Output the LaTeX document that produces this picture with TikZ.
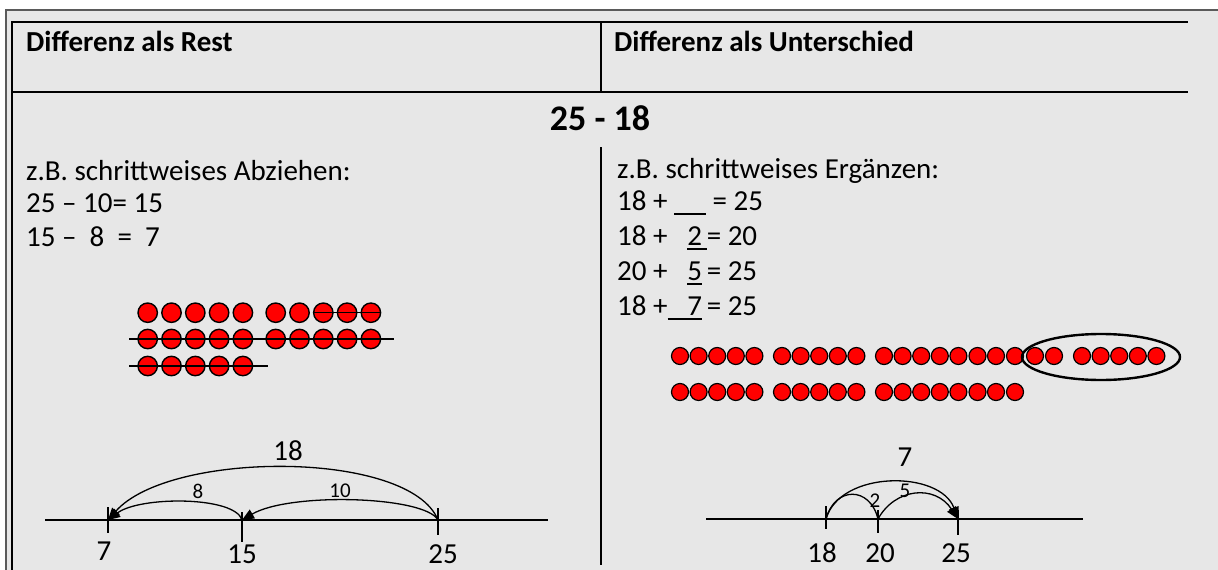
\documentclass[tikz,border=0pt]{standalone}
\usepackage{fontspec}
\setmainfont{Carlito}
\usetikzlibrary{arrows.meta,shapes.geometric}
\definecolor{paper}{HTML}{E7E7E7}
\definecolor{frame}{HTML}{5A5A5A}
\definecolor{bead}{HTML}{FF0000}
\newcommand{\unter}[1]{\setbox0\hbox{#1}\rlap{\rule[-4.5pt]{\wd0}{1.8pt}}\box0}

\begin{document}
\begin{tikzpicture}[x=1pt,y=-1pt,every node/.style={font=\fontsize{29}{34}\selectfont,inner sep=0pt}]
  \tikzstyle{p}=[circle,draw,line width=1.4pt,fill=bead,minimum size=19.4pt,inner sep=0pt]
  \tikzstyle{q}=[circle,draw,line width=1.2pt,fill=bead,minimum size=17pt,inner sep=0pt]
  \tikzstyle{rule}=[line width=1.4pt]
  \tikzstyle{jump}=[line width=1.3pt]
  \tikzstyle{tip}=[-{Triangle[length=12pt,width=10pt]}]
  \tikzstyle{small}=[font=\fontsize{21}{24}\selectfont]
  \tikzstyle{head}=[anchor=west,font=\bfseries\fontsize{29}{34}\selectfont]
  \useasboundingbox (0,0) rectangle (1218,570);
  \fill[paper] (6,10) rectangle (1218,570);
  \draw[frame,line width=1.6pt] (6,570) -- (6,10) -- (1218,10);
  % table lines
  \draw[rule] (12,570) -- (12,22) -- (1188,22);
  \draw[rule] (12,92) -- (1188,92);
  \draw[rule] (601,22) -- (601,92);
  \draw[rule] (601,147) -- (601,565);
  \node[head] (hl) at (26,41) {Differenz als Rest};
  \node[head] (hr) at (614,41) {Differenz als Unterschied};
  \node[font=\bfseries\fontsize{36}{40}\selectfont] (task) at (600,118) {25 - 18};
  % left column
  \node[anchor=west] (l0) at (26,171) {z.B. schrittweises Abziehen:};
  \node[anchor=west] (l1) at (26,203) {25 – 10= 15};
  \node[anchor=west] (l2) at (26,237) {15 – \ 8 \ = \ 7};
  \foreach \y/\n in {312.7/1,339/2}
    \foreach \i in {0,...,4} {
      \node[p] (a\n-\i) at ({147.7+23.8*\i},\y) {};
      \node[p] (b\n-\i) at ({275.7+23.8*\i},\y) {};
    }
  \foreach \i in {0,...,4}
    \node[p] (a3-\i) at ({147.7+23.8*\i},366) {};
  \draw[rule] (b1-2.west) -- (b1-4.east);
  \draw[rule] ([xshift=-8pt]a2-0.west) -- ([xshift=13pt]b2-4.east);
  \draw[rule] ([xshift=-8pt]a3-0.west) -- ([xshift=15pt]a3-4.east);
  \coordinate (la) at (45,520);
  \coordinate (lb) at (548,520);
  \coordinate (n7) at (108,520);
  \coordinate (n15) at (242,520);
  \coordinate (n25) at (438,520);
  \draw[rule] (la) -- (lb);
  \draw[rule] (108,507) -- (108,533);
  \draw[rule] (242,512) -- (242,542);
  \draw[rule] (438,508) -- (438,535);
  \draw[jump,tip] (n25) .. controls (410,450) and (170,450) .. (n7);
  \draw[jump,tip] (n15) .. controls (235,496) and (140,496) .. (n7);
  \draw[jump,tip] (n25) .. controls (425,496) and (290,492) .. (n15);
  \node (j18) at (288,451) {18};
  \node[small] (j8) at (198,491) {8};
  \node[small] (j10) at (340,491) {10};
  \node (k7) at (104,551) {7};
  \node (k15) at (242,554) {15};
  \node (k25) at (443,554) {25};
  % right column
  \node[anchor=west] (r0) at (617,171) {z.B. schrittweises Ergänzen:};
  \node[anchor=west] (r1) at (617,203) {18 + \unter{\hspace{1.1em}}\ = 25};
  \node[anchor=west] (r2) at (617,238) {18 + \ \ \unter{2\,}= 20};
  \node[anchor=west] (r3) at (617,273) {20 + \ \ \unter{5}\,= 25};
  \node[anchor=west] (r4) at (617,308) {18 +\unter{\ \ \ 7}\,= 25};
  \foreach \x [count=\k] in {680,698.6,717.2,735.8,754.4,782,800.6,819.2,837.8,856.4,
      884,902.6,921.2,939.8,958.4,977.5,996,1015,1035,1054,1082,1100.6,1119.2,1137.8,1156.4}
    \node[q] (u\k) at (\x,356) {};
  \foreach \x [count=\k] in {680,698.6,717.2,735.8,754.4,782,800.6,819.2,837.8,856.4,
      884,902.6,921.2,939.8,958.4,977.5,996,1015}
    \node[q] (v\k) at (\x,392) {};
  \node[draw,ellipse,line width=2.4pt,minimum width=158pt,minimum height=46pt] (ring) at (1101,357) {};
  \coordinate (ra) at (706,519);
  \coordinate (rb) at (1083,519);
  \coordinate (m18) at (826,519);
  \coordinate (m20) at (878,519);
  \coordinate (m25) at (958,519);
  \draw[rule] (ra) -- (rb);
  \draw[rule] (826,506) -- (826,529);
  \draw[rule] (878,510) -- (878,533);
  \draw[rule] (958,510) -- (958,535);
  \draw[jump,tip] (m18) .. controls (840,470) and (940,470) .. (m25);
  \draw[jump] (m18) .. controls (835,486) and (870,486) .. (m20);
  \draw[jump,tip] (m20) .. controls (895,488) and (935,484) .. (m25);
  \node (j7) at (905,457) {7};
  \node[small] (j2) at (875,501) {2};
  \node[small] (j5) at (905,491) {5};
  \node (k18) at (822,553) {18};
  \node (k20) at (880,553) {20};
  \node (k25r) at (956,553) {25};
\end{tikzpicture}
\end{document}
